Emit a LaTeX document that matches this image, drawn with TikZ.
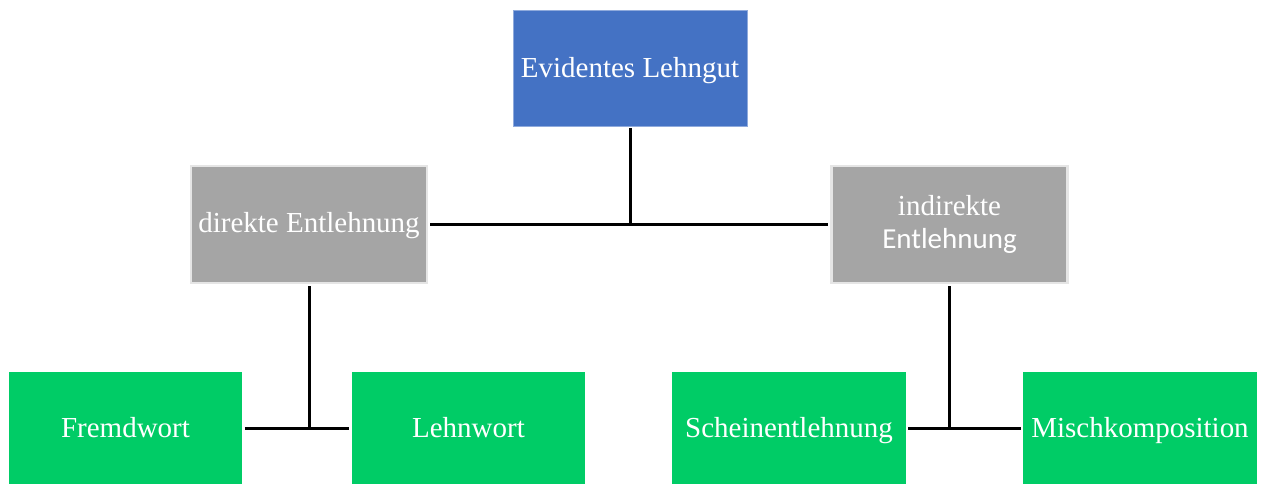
\documentclass[tikz,border=0pt]{standalone}
\usepackage{fontspec}
\setmainfont{Liberation Serif}
\newfontfamily\calibrifont{Carlito}
\usepackage{tikz}
\usepackage{xcolor}
\definecolor{lgblue}{HTML}{4472C4}
\definecolor{lggray}{HTML}{A5A5A5}
\definecolor{lggreen}{HTML}{00CC66}
\tikzset{box/.style={minimum width=4.68cm,minimum height=2.32cm,inner sep=0pt,
   text=white,font=\fontsize{16.5}{19.5}\selectfont},
 oneline/.style={text height=14pt,text depth=3.5pt},
 topbox/.style={box,oneline,fill=lgblue,draw=lgblue!60!white,line width=0.5pt},
 midbox/.style={box,fill=lggray,draw=black!10,line width=0.05cm,
   minimum width=4.72cm,minimum height=2.34cm},
 leafbox/.style={box,oneline,fill=lggreen,minimum height=2.24cm},
 link/.style={draw,line width=0.06cm,shorten <=0.04cm,shorten >=0.04cm},
 stem/.style={draw,line width=0.06cm,shorten <=0.04cm},
 }

\begin{document}
\begin{tikzpicture}[x=0.02cm,y=-0.02cm]
        \useasboundingbox (0,0) rectangle (1265,484);
        \node[topbox] (lehngut) at (630,68) {Evidentes Lehngut};
        \node[midbox,text height=13pt,text depth=4pt] (direkt) at (309,224.5) {direkte Entlehnung};
        \node[midbox,align=center] (indirekt) at (949.5,224.5) {indirekte\\[-1pt]{\calibrifont Entlehnung}};
        \node[leafbox] (fremd) at (125.5,428) {Fremdwort};
        \node[leafbox] (lehn) at (468.5,428) {Lehnwort};
        \node[leafbox] (schein) at (789,428) {Scheinentlehnung};
        \node[leafbox] (misch) at (1140,428) {Mischkomposition};
        % stems down to the joints
        \draw[stem] (lehngut.south) -- (lehngut.south |- direkt.east);
        \draw[stem] (direkt.south) -- (direkt.south |- fremd.east);
        \draw[stem] (indirekt.south) -- (indirekt.south |- schein.east);
        % bars between siblings
        \draw[link] (direkt.east) -- (indirekt.west);
        \draw[link] (fremd.east) -- (lehn.west);
        \draw[link] (schein.east) -- (misch.west);
    \end{tikzpicture}
\end{document}
